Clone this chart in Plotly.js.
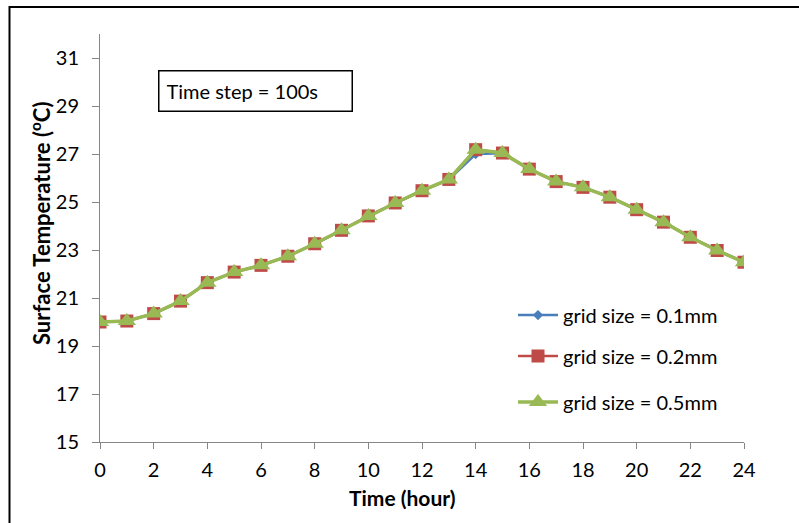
<!DOCTYPE html>
<html>
<head>
<meta charset="utf-8">
<script src="https://cdn.plot.ly/plotly-3.0.1.min.js"></script>
<style>html,body{margin:0;padding:0;background:#fff;}#chart{width:799px;height:523px;}</style>
</head>
<body>
<div id="chart"></div>
<script>
const hours = [0,1,2,3,4,5,6,7,8,9,10,11,12,13,14,15,16,17,18,19,20,21,22,23,24];
const grid01 = [20.0,20.04,20.35,20.87,21.64,22.08,22.36,22.74,23.26,23.82,24.42,24.96,25.47,25.93,27.0,27.03,26.37,25.86,25.62,25.21,24.69,24.17,23.54,22.99,22.5];
const grid02 = [20.0,20.04,20.35,20.87,21.64,22.08,22.36,22.74,23.26,23.82,24.42,24.96,25.47,25.94,27.18,27.04,26.37,25.85,25.61,25.2,24.68,24.16,23.53,22.98,22.49];
const grid05 = [20.0,20.04,20.35,20.87,21.64,22.08,22.36,22.74,23.26,23.82,24.42,24.96,25.47,25.94,27.18,27.04,26.37,25.85,25.61,25.2,24.68,24.16,23.53,22.98,22.49];
const seriesNames = ['grid size = 0.1mm','grid size = 0.2mm','grid size = 0.5mm'];
const yTicks = [15,17,19,21,23,25,27,29,31];
const xTicks = [0,2,4,6,8,10,12,14,16,18,20,22,24];
const xTitle = 'Time (hour)';
const yTitle = 'Surface Temperature (<sup>o</sup>C)';
const boxText = 'Time step = 100s';

const FONT = 'Lato, "Open Sans", sans-serif';
const FS = 20;
const traces = [
  {x: hours, y: grid01, name: seriesNames[0], type:'scatter', mode:'lines+markers', legend:'legend',
   line:{color:'#4A7EBB', width:2.5}, marker:{symbol:'diamond', size:8, color:'#4A7EBB'}},
  {x: hours, y: grid02, name: seriesNames[1], type:'scatter', mode:'lines+markers', legend:'legend2',
   line:{color:'#BE4B48', width:2.5}, marker:{symbol:'square', size:13, color:'#BE4B48'}},
  {x: hours, y: grid05, name: seriesNames[2], type:'scatter', mode:'lines+markers', legend:'legend3',
   line:{color:'#98B954', width:3.5}, marker:{symbol:'triangle-up', size:16, color:'#98B954'}}
];
const legBase = {xanchor:'left', yanchor:'middle', bgcolor:'rgba(0,0,0,0)', font:{family:FONT, size:FS, color:'#000'}, itemwidth:40};
const LX = (513-100)/644;
// pixel -> paper helpers (plot area: x 100..744, y 34..442)
const px = p => (p-100)/644;
const py = p => (442-p)/408;
const layout = {
  width:799, height:523,
  margin:{l:100, r:55, t:34, b:81},
  paper_bgcolor:'#fff', plot_bgcolor:'#fff',
  font:{family:FONT, color:'#000'},
  xaxis:{range:[0,24], tickvals:xTicks, ticktext:xTicks.map(String), showgrid:false, zeroline:false,
    showline:true, linecolor:'#868686', linewidth:1, ticks:'outside', ticklen:6, tickcolor:'#868686',
    tickfont:{family:FONT, size:FS, color:'#000'}, ticklabelstandoff:4},
  yaxis:{range:[15,32], tickvals:yTicks, ticktext:yTicks.map(String), showgrid:false, zeroline:false,
    showline:true, linecolor:'#868686', linewidth:1, ticks:'outside', ticklen:7, tickcolor:'#868686',
    tickfont:{family:FONT, size:FS, color:'#000'}, ticklabelstandoff:9},
  legend:Object.assign({x:LX, y:0.311}, legBase),
  legend2:Object.assign({x:LX, y:0.211}, legBase),
  legend3:Object.assign({x:LX, y:0.098}, legBase),
  annotations:[
    {xref:'paper', yref:'paper', x:px(255), y:py(91), xanchor:'center', yanchor:'middle',
     text:boxText, showarrow:false, font:{family:FONT, size:FS, color:'#000'},
     bordercolor:'#000', borderwidth:1.5, borderpad:7, width:178, height:25, align:'left', bgcolor:'#fff'},
    {xref:'paper', yref:'paper', x:px(402), y:py(497), xanchor:'center', yanchor:'middle',
     text:'<b>'+xTitle+'</b>', showarrow:false, font:{family:FONT, size:21, color:'#000'}},
    {xref:'paper', yref:'paper', x:px(40), y:py(224), xanchor:'center', yanchor:'middle', textangle:-90,
     text:'<b>'+yTitle+'</b>', showarrow:false, font:{family:FONT, size:22, color:'#000'}}
  ],
  shapes:[{type:'rect', xref:'paper', yref:'paper', x0:px(9.5), x1:2, y0:-1, y1:py(7),
    line:{color:'#000', width:2}, fillcolor:'rgba(0,0,0,0)', layer:'below'}],
  showlegend:true
};
Plotly.newPlot('chart', traces, layout, {displayModeBar:false, staticPlot:true});
</script>
</body>
</html>
